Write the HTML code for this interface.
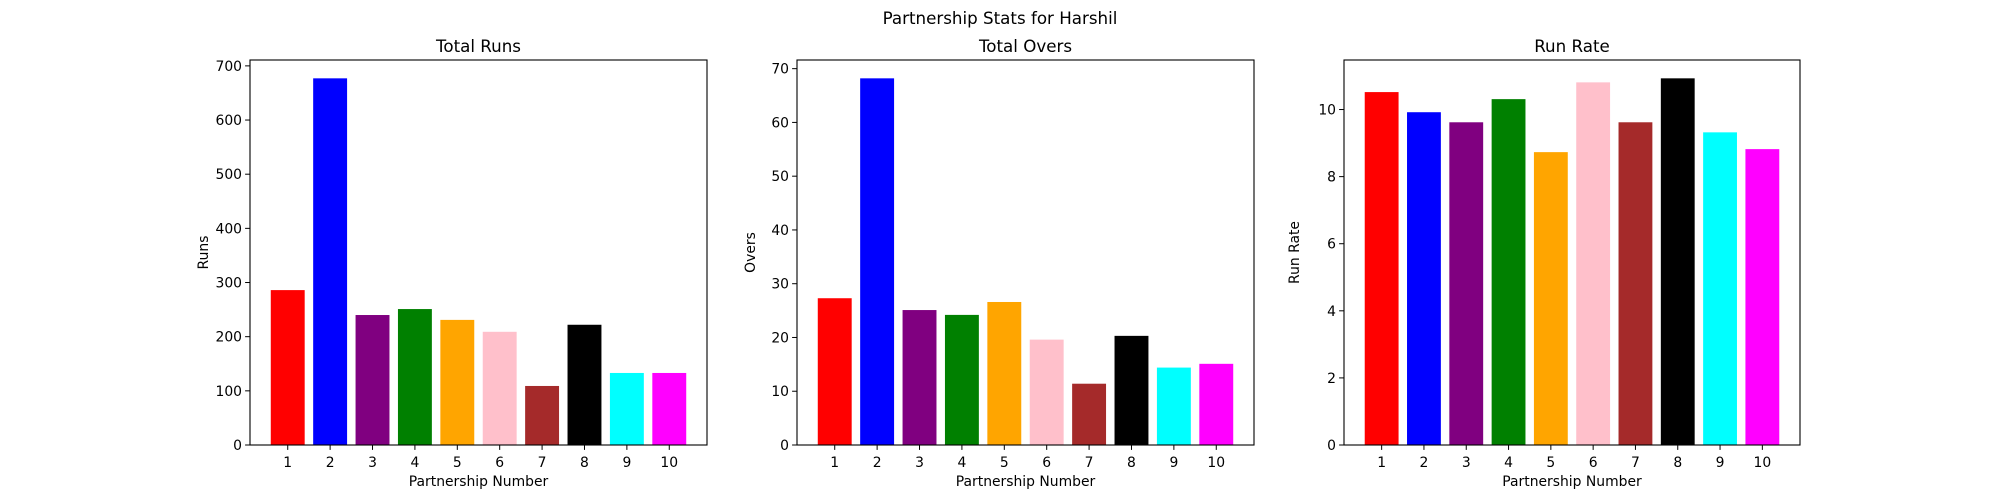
<!DOCTYPE html>
<html><head><meta charset="utf-8"><style>
html,body{margin:0;padding:0;background:#fff;}
svg{display:block;font-family:"DejaVu Sans","Liberation Sans",sans-serif;}
</style></head><body>
<svg id="chart" width="2000" height="500" viewBox="0 0 2000 500" xmlns="http://www.w3.org/2000/svg">
<text x="1000" y="24" text-anchor="middle" font-size="16.7" fill="#000">Partnership Stats for Harshil</text>
</svg>
<script>
const categories = [1,2,3,4,5,6,7,8,9,10];
const colors = ['red','blue','purple','green','orange','pink','brown','black','cyan','magenta'];
const runs = [286,677,240,251,231,209,109,222,133,133];
const overs = [27.3,68.2,25.1,24.2,26.6,19.6,11.4,20.3,14.4,15.1];
const runRate = [10.52,9.92,9.62,10.31,8.73,10.81,9.62,10.93,9.32,8.82];
const runsTicks = [0,100,200,300,400,500,600,700];
const oversTicks = [0,10,20,30,40,50,60,70];
const rateTicks = [0,2,4,6,8,10];

const NS='http://www.w3.org/2000/svg';
const svgRoot=document.getElementById('chart');
function mk(tag,attrs,parent){const e=document.createElementNS(NS,tag);for(const k in attrs)e.setAttribute(k,attrs[k]);(parent||svgRoot).appendChild(e);return e;}

const plotTop=60, plotBottom=445;
const panels=[
 {left:250,right:707,data:runs,ticks:runsTicks,title:'Total Runs',ylab:'Runs',key:'runs'},
 {left:797,right:1254,data:overs,ticks:oversTicks,title:'Total Overs',ylab:'Overs',key:'overs'},
 {left:1344,right:1800,data:runRate,ticks:rateTicks,title:'Run Rate',ylab:'Run Rate',key:'run-rate'}
];
panels.forEach(p=>{
  const g=mk('g',{});
  
  
  const ymax=Math.max(...p.data)*1.05;
  const xmin=0.6-0.49, xmax=10.4+0.49;
  const xs=v=>p.left+(v-xmin)/(xmax-xmin)*(p.right-p.left);
  const ys=v=>plotBottom-v/ymax*(plotBottom-plotTop);
  p.data.forEach((v,i)=>{
    const r=mk('rect',{x:xs(categories[i]-0.4),y:ys(v),width:xs(categories[i]+0.4)-xs(categories[i]-0.4),height:ys(0)-ys(v),fill:colors[i]},g);
    
    
  });
  const frame=mk('rect',{x:p.left,y:plotTop,width:p.right-p.left,height:plotBottom-plotTop,fill:'none',stroke:'#000','stroke-width':1.1},g);
  
  
  categories.forEach(c=>{
    const x=xs(c);
    mk('line',{x1:x,x2:x,y1:plotBottom,y2:plotBottom+4.9,stroke:'#000','stroke-width':1},g);
    const t=mk('text',{x:x,y:467,'text-anchor':'middle','font-size':13.9,fill:'#000'},g);
    t.textContent=c;
    
    
  });
  p.ticks.forEach(v=>{
    const y=ys(v);
    if(y<plotTop-1)return;
    mk('line',{x1:p.left-4.9,x2:p.left,y1:y,y2:y,stroke:'#000','stroke-width':1},g);
    const t=mk('text',{x:p.left-8,y:y+5,'text-anchor':'end','font-size':13.9,fill:'#000'},g);
    t.textContent=v;
    
    
  });
  const tt=mk('text',{x:(p.left+p.right)/2,y:52,'text-anchor':'middle','font-size':16.7,fill:'#000'},g);
  tt.textContent=p.title;
  
  
  const xl=mk('text',{x:(p.left+p.right)/2,y:486,'text-anchor':'middle','font-size':13.9,fill:'#000'},g);
  xl.textContent='Partnership Number';
  
  
  const lx=p.key==='run-rate'? p.left-45 : p.left-42;
  const yl=mk('text',{x:lx,y:(plotTop+plotBottom)/2,'text-anchor':'middle','font-size':13.9,fill:'#000',transform:'rotate(-90 '+lx+' '+(plotTop+plotBottom)/2+')'},g);
  yl.textContent=p.ylab;
  
  
});
</script>
</body></html>
